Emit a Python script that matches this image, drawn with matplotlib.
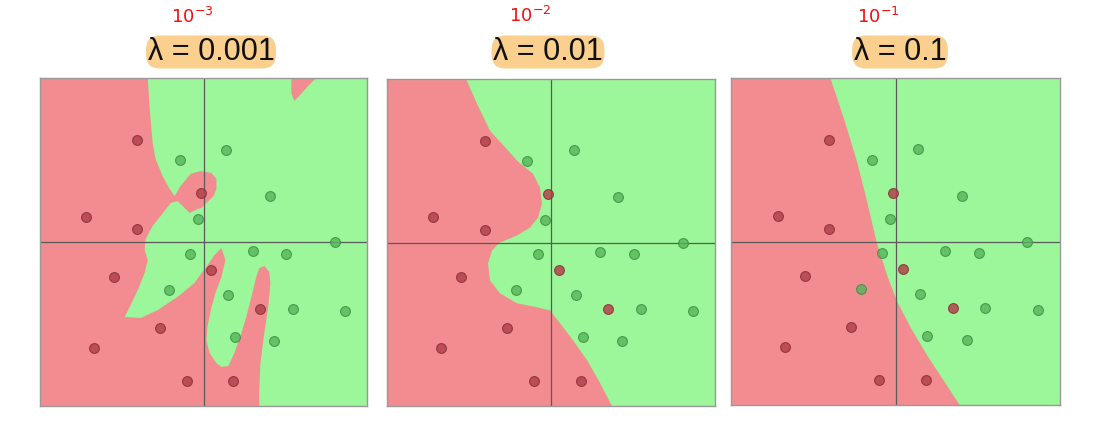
import matplotlib
matplotlib.use("Agg")
import matplotlib.pyplot as plt
import numpy as np

# ---------------- data ----------------
lambdas = ["0.001", "0.01", "0.1"]
annotations = [r"$10^{-3}$", r"$10^{-2}$", r"$10^{-1}$"]

red_x = [-0.405, -0.717, -0.405, -0.018, -0.550, 0.047, -0.269, -0.670, 0.348, -0.102, 0.183]
red_y = [0.623, 0.155, 0.079, 0.297, -0.212, -0.171, -0.523, -0.644, -0.409, -0.847, -0.847]
green_x = [0.138, -0.145, 0.407, -0.035, -0.081, 0.301, 0.507, 0.802, -0.212, 0.151, 0.546, 0.864, 0.193, 0.434]
green_y = [0.564, 0.497, 0.279, 0.138, -0.073, -0.057, -0.073, 0.0, -0.291, -0.322, -0.409, -0.420, -0.578, -0.605]

# red-class regions (polygons) for each lambda
red_region_001_x = [-1, -0.341, -0.329, -0.311, -0.293, -0.250, -0.207, -0.177, -0.140, -0.079, -0.018, 0.049,
                    0.079, 0.079, 0.061, 0.018, -0.012, -0.037, -0.085, -0.159, -0.201, -0.262, -0.311, -0.354,
                    -0.360, -0.341, -0.360, -0.402, -0.451, -0.482, -0.384, -0.280, -0.159, -0.055, -0.012, 0.018,
                    0.067, 0.110, 0.134, 0.110, 0.079, 0.049, 0.024, 0.018, 0.037, 0.079, 0.110, 0.152, 0.189,
                    0.232, 0.262, 0.293, 0.323, 0.341, 0.372, 0.402, 0.409, 0.396, 0.372, 0.348, 0.341, 0.341, -1]
red_region_001_y = [1, 1, 0.811, 0.604, 0.506, 0.402, 0.323, 0.280, 0.341, 0.415, 0.433, 0.421,
                    0.384, 0.323, 0.280, 0.238, 0.207, 0.201, 0.177, 0.250, 0.238, 0.159, 0.098, 0.018,
                    -0.049, -0.110, -0.189, -0.293, -0.396, -0.457, -0.463, -0.415, -0.335, -0.250, -0.189, -0.152,
                    -0.079, -0.037, -0.110, -0.213, -0.293, -0.396, -0.518, -0.598, -0.677, -0.738, -0.762, -0.756, -0.677,
                    -0.555, -0.457, -0.335, -0.213, -0.159, -0.146, -0.183, -0.250, -0.396, -0.555, -0.738, -0.902, -1, -1]
red_blob_001_x = [0.537, 0.537, 0.555, 0.585, 0.640, 0.689]
red_blob_001_y = [1.0, 0.909, 0.860, 0.890, 0.951, 1.0]

red_region_01_x = [-1, -0.518, -0.451, -0.372, -0.287, -0.201, -0.110, -0.067, -0.055, -0.079, -0.128, -0.207,
                   -0.311, -0.360, -0.384, -0.372, -0.311, -0.207, -0.085, -0.006, 0.055, 0.134, 0.220, 0.299,
                   0.372, -1]
red_region_01_y = [1, 1, 0.848, 0.683, 0.591, 0.494, 0.421, 0.335, 0.238, 0.152, 0.091, 0.043,
                   0.0, -0.049, -0.128, -0.232, -0.311, -0.372, -0.396, -0.415, -0.494, -0.598, -0.720, -0.860,
                   -1, -1]

red_region_1_x = [-1, -0.396, -0.311, -0.232, -0.171, -0.116, -0.049, 0.012, 0.098, 0.195, 0.299, 0.390, -1]
red_region_1_y = [1, 1, 0.744, 0.482, 0.238, 0.0, -0.213, -0.372, -0.537, -0.701, -0.860, -1, -1]

regions = [
    [(red_region_001_x, red_region_001_y), (red_blob_001_x, red_blob_001_y)],
    [(red_region_01_x, red_region_01_y)],
    [(red_region_1_x, red_region_1_y)],
]

# ---------------- style ----------------
PINK = "#f38c90"
GREEN = "#9cf69a"
RED_PT = "#b4424a"
GREEN_PT = "#55b55a"
HILITE = "#fbcf8d"

fig = plt.figure(figsize=(10.98, 4.28), dpi=100)
W, H = 1098, 428
boxes = [(40, 78, 367, 406), (387, 79, 715, 406), (731, 78, 1060, 405)]
title_cx = [211, 548, 900]

for i, (x0, y0, x1, y1) in enumerate(boxes):
    ax = fig.add_axes([x0 / W, (H - y1) / H, (x1 - x0) / W, (y1 - y0) / H])
    ax.set_facecolor(GREEN)
    for px, py in regions[i]:
        ax.fill(px, py, color=PINK, lw=0, zorder=1)
    ax.axhline(0, color="#5a5a5a", lw=0.9, zorder=2)
    ax.axvline(0, color="#5a5a5a", lw=0.9, zorder=2)
    ax.scatter(red_x, red_y, s=50, c=RED_PT, alpha=0.85, edgecolors="#86303a", linewidths=0.8, zorder=3)
    ax.scatter(green_x, green_y, s=50, c=GREEN_PT, alpha=0.8, edgecolors="#3a8a40", linewidths=0.8, zorder=3)
    ax.set_xlim(-1, 1)
    ax.set_ylim(-1, 1)
    ax.set_xticks([])
    ax.set_yticks([])
    for s in ax.spines.values():
        s.set_color("#999999")
        s.set_linewidth(1.0)

    fig.text(title_cx[i] / W, (H - 52) / H, "λ = " + lambdas[i], ha="center", va="center",
             fontsize=22, family="Liberation Sans", color="#111111",
             bbox=dict(boxstyle="round,pad=0.05,rounding_size=0.45", fc=HILITE, ec="none"))

ann_pos = [(192, 17), (530, 16), (878, 17)]
for (ax_, ay_), t in zip(ann_pos, annotations):
    fig.text(ax_ / W, (H - ay_) / H, t, ha="center", va="center", fontsize=13, color="#ee1111",
             style="italic")

fig.savefig("out.png", dpi=100)
